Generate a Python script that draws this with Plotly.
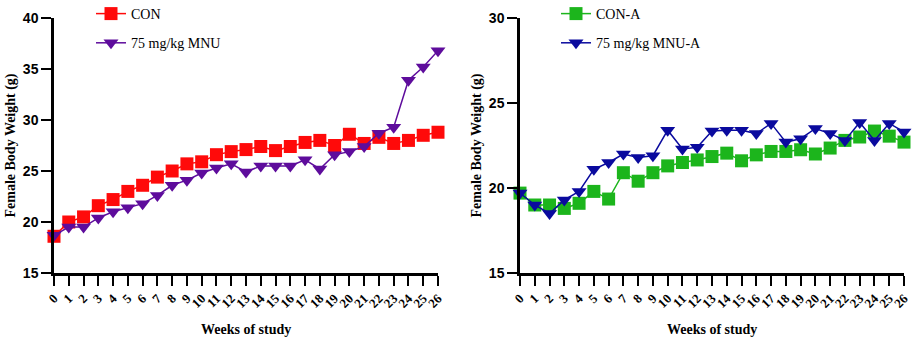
import plotly.graph_objects as go

weeks = list(range(27))
week_labels = [str(w) for w in weeks]

con = [18.6, 20.0, 20.5, 21.6, 22.2, 23.0, 23.6, 24.4, 25.0, 25.7, 25.9, 26.6, 26.9, 27.1,
       27.4, 27.0, 27.4, 27.8, 28.0, 27.5, 28.6, 27.7, 28.3, 27.7, 28.0, 28.5, 28.8]
mnu = [18.7, 19.5, 19.5, 20.4, 21.0, 21.4, 21.8, 22.6, 23.6, 24.1, 24.8, 25.3, 25.7, 24.9,
       25.5, 25.5, 25.5, 26.1, 25.2, 26.6, 26.9, 27.4, 28.7, 29.3, 33.9, 35.2, 36.8]
con_a = [19.7, 19.0, 19.0, 18.8, 19.1, 19.8, 19.35, 20.9, 20.4, 20.9, 21.3, 21.5, 21.65, 21.85,
         22.05, 21.6, 21.95, 22.15, 22.15, 22.25, 22.0, 22.35, 22.8, 23.0, 23.35, 23.05, 22.7]
mnu_a = [19.7, 19.0, 18.5, 19.3, 19.8, 21.1, 21.5, 22.0, 21.8, 21.9, 23.4, 22.3, 22.4, 23.35,
         23.4, 23.4, 23.2, 23.8, 22.7, 22.9, 23.5, 23.2, 22.8, 23.85, 22.8, 23.8, 23.3]

RED = "#FF0A0A"
PURPLE = "#5E0C9C"
GREEN = "#1CB51C"
BLUE = "#0A0A9E"

fig = go.Figure()
fig.add_trace(go.Scatter(x=weeks, y=con, name="CON", mode="lines+markers",
                         line=dict(color=RED, width=1.5),
                         marker=dict(symbol="square", size=13, color=RED),
                         cliponaxis=False, legend="legend", legendgroup="a", xaxis="x", yaxis="y"))
fig.add_trace(go.Scatter(x=weeks, y=mnu, name="75 mg/kg MNU", mode="lines+markers",
                         line=dict(color=PURPLE, width=1.5),
                         marker=dict(symbol="triangle-down", size=13, color=PURPLE),
                         cliponaxis=False, legend="legend", legendgroup="b", xaxis="x", yaxis="y"))
fig.add_trace(go.Scatter(x=weeks, y=con_a, name="CON-A", mode="lines+markers",
                         line=dict(color=GREEN, width=1.5),
                         marker=dict(symbol="square", size=13, color=GREEN),
                         cliponaxis=False, legend="legend2", legendgroup="c", xaxis="x2", yaxis="y2"))
fig.add_trace(go.Scatter(x=weeks, y=mnu_a, name="75 mg/kg MNU-A", mode="lines+markers",
                         line=dict(color=BLUE, width=1.5),
                         marker=dict(symbol="triangle-down", size=13, color=BLUE),
                         cliponaxis=False, legend="legend2", legendgroup="d", xaxis="x2", yaxis="y2"))

xax = dict(range=[0, 26], tickmode="array", tickvals=weeks, ticktext=week_labels, tickangle=-45,
           showline=True, linewidth=2.5, linecolor="black", ticks="outside", ticklen=10,
           tickwidth=2, tickcolor="black", showgrid=False, zeroline=False, automargin=False,
           tickfont=dict(family="Liberation Serif", size=13, color="black", weight="bold"))
yfont = dict(family="Liberation Sans", size=14, color="black", weight="bold")

serif = "Liberation Serif"
L = 54
W = 850
H = 255
T = 18

fig.update_layout(
    width=924, height=343,
    margin=dict(l=L, r=924 - L - W, t=T, b=343 - T - H, autoexpand=False),
    plot_bgcolor="white", paper_bgcolor="white",
    showlegend=True,
    xaxis=dict(domain=[0, 384 / W], anchor="y", **xax),
    xaxis2=dict(domain=[466 / W, 1], anchor="y2", **xax),
    yaxis=dict(domain=[0, 1], anchor="x", range=[15, 40], dtick=5, tick0=15, automargin=False,
               showline=True, linewidth=2.5, linecolor="black", ticks="outside", ticklen=10,
               tickwidth=2, tickcolor="black", showgrid=False, zeroline=False, tickfont=yfont),
    yaxis2=dict(domain=[0, 1], anchor="x2", range=[15, 30], dtick=5, tick0=15, automargin=False,
                showline=True, linewidth=2.5, linecolor="black", ticks="outside", ticklen=10,
                tickwidth=2, tickcolor="black", showgrid=False, zeroline=False, tickfont=yfont),
    legend=dict(x=(91 - L) / W, y=(T + H + 2) / H, xanchor="left", yanchor="top",
                bgcolor="rgba(0,0,0,0)", tracegroupgap=8,
                font=dict(family=serif, size=14, color="black")),
    legend2=dict(x=(556 - L) / W, y=(T + H + 2) / H, xanchor="left", yanchor="top",
                 bgcolor="rgba(0,0,0,0)", tracegroupgap=8,
                 font=dict(family=serif, size=14, color="black")),
)

title_font = dict(family=serif, size=14, color="black", weight="bold")
fig.add_annotation(text="Female Body Weight (g)", xref="paper", yref="paper",
                   x=(10 - L) / W, y=0.5, xanchor="center", yanchor="middle",
                   textangle=-90, showarrow=False, font=title_font)
fig.add_annotation(text="Female Body Weight (g)", xref="paper", yref="paper",
                   x=(476 - L) / W, y=0.5, xanchor="center", yanchor="middle",
                   textangle=-90, showarrow=False, font=title_font)
fig.add_annotation(text="Weeks of study", xref="paper", yref="paper",
                   x=(246 - L) / W, y=(T + H - 329) / H, xanchor="center", yanchor="middle",
                   showarrow=False, font=title_font)
fig.add_annotation(text="Weeks of study", xref="paper", yref="paper",
                   x=(712 - L) / W, y=(T + H - 329) / H, xanchor="center", yanchor="middle",
                   showarrow=False, font=title_font)

fig.write_html("out.html")
